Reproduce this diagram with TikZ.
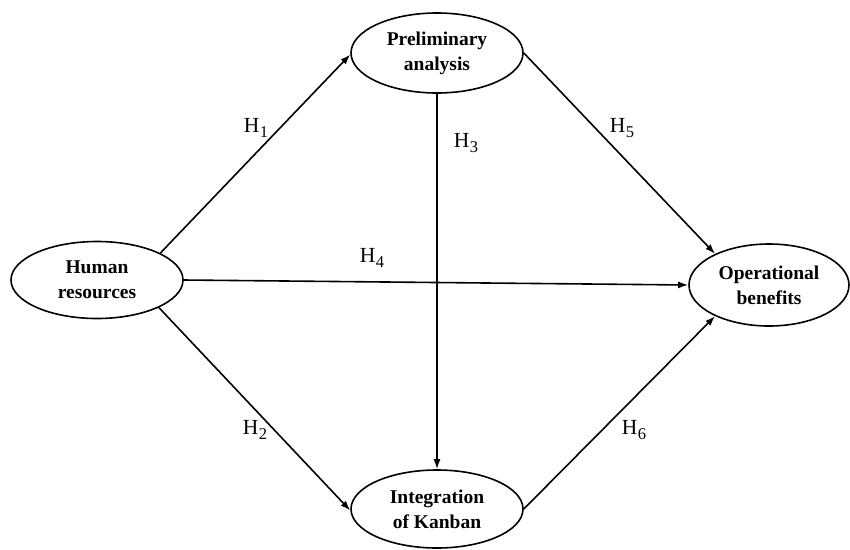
\documentclass[tikz,border=0pt]{standalone}
\usepackage{fontspec}
\setmainfont{Liberation Serif}
\usetikzlibrary{shapes.geometric,arrows.meta}
\newcommand{\hlab}[1]{H\kern0.3pt\raisebox{-5.5pt}{\fontsize{16.5}{16.5}\selectfont #1}}
\tikzset{
  construct/.style={ellipse, draw, line width=1.6pt, inner sep=0pt,
    minimum width=172pt, minimum height=78pt, align=center,
    font=\bfseries\fontsize{19.5}{25}\selectfont},
  link/.style={line width=1.6pt, -{Latex[length=10pt,width=7pt]}},
  hyp/.style={font=\fontsize{21.5}{21.5}\selectfont, inner sep=0pt}
}
\begin{document}
\begin{tikzpicture}[x=1pt,y=-1pt]
\useasboundingbox (0,0) rectangle (850,549);
\node[construct, minimum height=80pt] (pa) at (437,53) {Preliminary\\analysis};
\node[construct, minimum height=77pt] (hr) at (97,280) {Human\\resources};
\node[construct, minimum width=160pt, minimum height=82pt] (op) at (769,285) {Operational\\benefits};
\node[construct] (ki) at (437,509) {Integration\\of Kanban};
\draw[link] (hr.23) -- (pa.181);
\draw[link] (hr.-24) -- (ki.181);
\draw[link] (pa.270) -- (ki.90);
\draw[link] (hr.0) -- (op.180);
\draw[link] (pa.0) -- (op.150);
\draw[link] (ki.0) -- (op.210);
\node[hyp] (h1) at (256,128) {\hlab{1}};
\node[hyp] (h2) at (255,430) {\hlab{2}};
\node[hyp] (h3) at (466,143) {\hlab{3}};
\node[hyp] (h4) at (372,258) {\hlab{4}};
\node[hyp] (h5) at (622,128) {\hlab{5}};
\node[hyp] (h6) at (634,430) {\hlab{6}};
\end{tikzpicture}
\end{document}
